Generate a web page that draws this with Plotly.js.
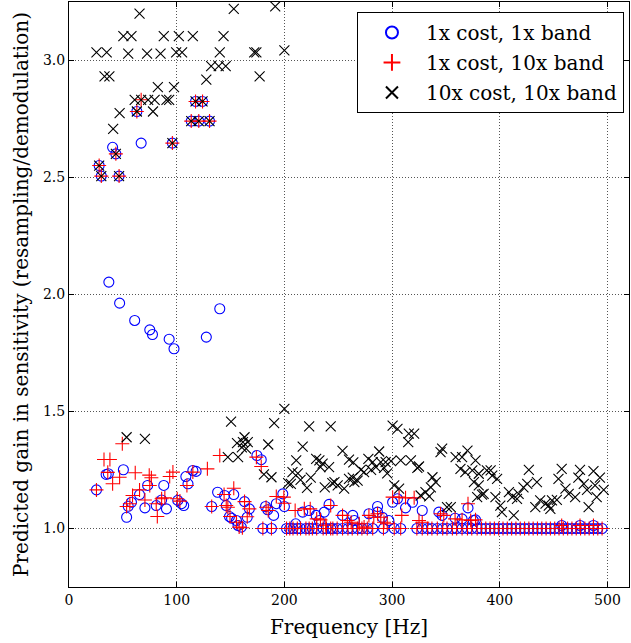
<!DOCTYPE html>
<html>
<head>
<meta charset="utf-8">
<script src="https://cdn.plot.ly/plotly-3.0.1.min.js"></script>
<style>html,body{margin:0;padding:0;background:#fff;}</style>
</head>
<body>
<div id="chart" style="width:631px;height:643px;"></div>
<script>
// ---- Data ----
const seriesNames = ["1x cost, 1x band", "1x cost, 10x band", "10x cost, 10x band"];

// points shared by all three series (upper cluster)
const sharedFreq = [28, 30, 43.5, 46.5, 63, 96, 113.5, 120.5, 130.5, 117.5, 124];
const sharedGain = [2.551, 2.506, 2.601, 2.506, 2.782, 2.647, 2.741, 2.741, 2.741, 2.825, 2.825];

// frequencies where both 1x-cost series sit at exactly 1.0
const floorFreq = [180, 188, 202, 205, 208, 212, 215, 220, 223, 226, 230, 236, 239, 243, 245, 249, 254, 259,
  263, 268, 272, 277, 282, 292, 302, 308, 323, 328, 333, 337, 342, 347, 351, 356, 360, 365, 370, 374, 379,
  383, 387, 391, 395, 399, 403, 407, 411, 415, 419, 423, 427, 431, 435, 439, 443, 447, 451, 455, 459, 463,
  467, 471, 475, 479, 483, 487, 491, 495];
const floorGain = [1.0, 1.0, 1.0, 1.0, 1.0, 1.0, 1.0, 1.0, 1.0, 1.0, 1.0, 1.0, 1.0, 1.0, 1.0, 1.0, 1.0, 1.0,
  1.0, 1.0, 1.0, 1.0, 1.0, 1.0, 1.0, 1.0, 1.0, 1.0, 1.0, 1.0, 1.0, 1.0, 1.0, 1.0, 1.0, 1.0, 1.0, 1.0, 1.0,
  1.0, 1.0, 1.0, 1.0, 1.0, 1.0, 1.0, 1.0, 1.0, 1.0, 1.0, 1.0, 1.0, 1.0, 1.0, 1.0, 1.0, 1.0, 1.0, 1.0, 1.0,
  1.0, 1.0, 1.0, 1.0, 1.0, 1.0, 1.0, 1.0];

// 1x cost, 1x band (own points)
const freqA = [40.5, 67, 37, 47, 61, 75, 77.5, 93, 97.5, 127.5, 140,
  25.5, 34.5, 36.5, 50.5, 65.5, 58, 55, 53.5, 70.5, 73, 88, 81, 86, 90.5, 101, 104.5, 106.5, 108.5, 110.5, 115,
  118, 138, 144.5, 153, 132.5, 146, 149, 151, 155.5, 157, 160, 163, 167.5, 165.5, 174.5, 178.5, 182.5, 184.5,
  190, 192.5, 198.5, 200, 210.5, 217, 223, 229.5, 232.5, 237, 241.5, 254, 263.5, 265, 278.5, 286.5, 286.5, 291,
  297, 300.5, 305, 312.5, 319, 328, 343.5, 346.5, 358.5, 365, 370.5, 377.5, 375.5, 457.5, 474.5, 487];
const gainA = [2.629, 2.647, 2.053, 1.963, 1.889, 1.849, 1.829, 1.809, 1.768, 1.818, 1.939,
  1.165, 1.231, 1.234, 1.251, 1.145, 1.112, 1.095, 1.048, 1.088, 1.184, 1.184, 1.098, 1.122, 1.084, 1.120, 1.106, 1.098, 1.222, 1.191, 1.248,
  1.244, 1.155, 1.141, 1.145, 1.094, 1.098, 1.051, 1.044, 1.034, 1.013, 1.006, 1.115, 1.084, 1.048, 1.312, 1.294, 1.094, 1.080,
  1.056, 1.106, 1.148, 1.094, 1.020, 1.070, 1.077, 1.056, 1.034, 1.070, 1.103, 1.056, 1.056, 1.034, 1.063, 1.094, 1.070, 1.048,
  1.034, 1.112, 1.127, 1.088, 1.112, 1.077, 1.070, 1.056, 1.044, 1.041, 1.088, 1.037, 1.034, 1.013, 1.013, 1.013];

// 1x cost, 10x band (own points)
const freqB = [67,
  25.5, 32.5, 38, 36, 40.5, 47, 49.5, 61.5, 65.5, 59, 56.5, 53.5, 70.5, 75, 76.5, 74.5, 93.5, 96.5, 81, 82, 86, 89,
  100.5, 103, 109.5, 115, 140, 128.5, 174, 178.5, 153, 144, 146, 147.5, 132.5, 149.5, 155.5, 158, 161, 163, 167.5,
  165.5, 183, 185, 192.5, 199.5, 200, 210, 218.5, 224, 230, 233.5, 238.5, 243, 254, 258.5, 262, 269.5, 274, 278.5,
  283, 286.5, 289.5, 292.5, 295.5, 300.5, 306.5, 312.5, 320.5, 309, 325, 328, 345, 348, 358.5, 365, 370.5, 373,
  377.5, 457.5, 474.5, 487];
const gainB = [2.832,
  1.165, 1.295, 1.295, 1.240, 1.191, 1.219, 1.362, 1.238, 1.165, 1.141, 1.106, 1.094, 1.122, 1.184, 1.217, 1.228, 1.222, 1.241, 1.106, 1.051, 1.127, 1.131,
  1.127, 1.117, 1.184, 1.241, 1.312, 1.255, 1.305, 1.265, 1.172, 1.145, 1.098, 1.091, 1.094, 1.051, 1.027, 1.006, 1.003, 1.115, 1.084,
  1.050, 1.091, 1.077, 1.137, 1.134, 1.108, 1.077, 1.084, 1.084, 1.041, 1.037, 1.014, 1.098, 1.056, 1.034, 1.027, 1.020, 1.006, 1.056,
  1.048, 1.063, 1.048, 1.027, 1.020, 1.134, 1.134, 1.131, 1.131, 1.056, 1.034, 1.027, 1.063, 1.056, 1.041, 1.037, 1.106, 1.034,
  1.037, 1.013, 1.013, 1.013];

// 10x cost, 10x band (own points)
const freqC = [25.5, 35, 33, 37.5, 41, 47, 50.5, 58, 55, 61, 65.5, 67, 73.5, 79.5, 90.5, 93, 72.5, 78, 85, 82.5, 88,
  97.5, 99.5, 105, 102, 115, 127.5, 132, 139, 145.5, 140, 143.5, 153, 172, 174, 177, 191.5, 200,
  53.5, 70.5, 150.5, 190.5, 200, 223, 243, 163, 156, 161.5, 166, 160.5, 164.5, 147.5, 157, 185, 181, 188, 217, 211,
  229.5, 232.5, 235.5, 233.5, 207.5, 212.5, 215, 224.5, 203.5, 206, 221, 237.5, 244.5, 241.5,
  300.5, 305, 315.5, 320.5, 315, 254, 288, 278, 282, 289.5, 294, 299, 308, 317.5, 325, 323.5, 260, 264, 271, 274,
  280.5, 285, 292.5, 295.5, 246.5, 249.5, 255.5, 260, 265, 263.5, 268, 302, 306.5, 337.5, 340.5, 336, 331, 326.5, 334.5,
  345, 346.5, 359, 365, 370, 377.5, 363.5, 368, 374.5, 380.5, 351, 354.5, 379,
  376, 380.5, 383.5, 385, 388, 391.5, 393, 397.5, 396, 400.5, 402, 413, 408.5, 411.5, 416, 417.5, 422, 425.5, 427,
  434.5, 433, 437.5, 442.5, 445.5, 448.5, 453, 447, 457.5, 454.5, 461, 464, 470, 474.5, 473, 478, 481, 482.5, 487,
  493, 488.5, 496.5, 490];
const gainC = [3.035, 3.035, 2.932, 2.932, 2.708, 2.775, 3.104, 3.104, 3.029, 2.832, 3.200, 2.832, 2.832, 2.832, 2.832, 2.832, 3.029, 2.782, 3.029, 2.886, 3.104,
  2.886, 3.035, 3.035, 3.104, 3.104, 2.918, 2.976, 2.976, 2.976, 3.035, 3.104, 3.221, 3.035, 3.035, 2.932, 3.231, 3.043,
  1.390, 1.383, 1.457, 1.450, 1.511, 1.436, 1.436, 1.390, 1.365, 1.369, 1.369, 1.347, 1.341, 1.305, 1.305, 1.359, 1.231, 1.219, 1.350, 1.291,
  1.298, 1.291, 1.277, 1.262, 1.241, 1.236, 1.208, 1.217, 1.194, 1.191, 1.174, 1.176, 1.194, 1.262,
  1.440, 1.426, 1.405, 1.405, 1.369, 1.332, 1.329, 1.298, 1.284, 1.284, 1.284, 1.288, 1.291, 1.291, 1.265, 1.259, 1.294, 1.283, 1.251, 1.241,
  1.251, 1.262, 1.259, 1.236, 1.198, 1.184, 1.170, 1.212, 1.198, 1.217, 1.205, 1.184, 1.170, 1.219, 1.198, 1.176, 1.155, 1.141, 1.137,
  1.326, 1.341, 1.305, 1.305, 1.333, 1.291, 1.255, 1.241, 1.248, 1.234, 1.091, 1.091, 1.134,
  1.198, 1.184, 1.145, 1.148, 1.248, 1.248, 1.226, 1.212, 1.134, 1.098, 1.070, 1.056, 1.155, 1.134, 1.127, 1.148, 1.176, 1.191, 1.251,
  1.198, 1.091, 1.120, 1.106, 1.098, 1.120, 1.122, 1.084, 1.255, 1.212, 1.170, 1.148, 1.134, 1.251, 1.217, 1.191, 1.165, 1.091, 1.245,
  1.217, 1.184, 1.165, 1.134];

const xTicks = [0, 100, 200, 300, 400, 500];
const yTicks = [1.0, 1.5, 2.0, 2.5, 3.0];

// ---- Build traces ----
const xA = sharedFreq.concat(freqA, floorFreq), yA = sharedGain.concat(gainA, floorGain);
const xB = sharedFreq.concat(freqB, floorFreq), yB = sharedGain.concat(gainB, floorGain);
const xC = sharedFreq.concat(freqC), yC = sharedGain.concat(gainC);

const FONT = "DejaVu Serif, Liberation Serif, serif";

const traces = [
  {x: xA, y: yA, name: seriesNames[0], type: "scatter", mode: "markers", legendgroup: "a",
   marker: {symbol: "circle-open", size: 10, color: "#0000ff", line: {width: 1.1, color: "#0000ff"}}},
  {x: xB, y: yB, name: seriesNames[1], type: "scatter", mode: "markers", legendgroup: "b",
   marker: {symbol: "cross-thin-open", size: 10, color: "#ff0000", line: {width: 1.1, color: "#ff0000"}}},
  {x: xC, y: yC, name: seriesNames[2], type: "scatter", mode: "markers", legendgroup: "c",
   marker: {symbol: "x-thin-open", size: 10, color: "#000000", line: {width: 1.1, color: "#000000"}}}
];

const axisCommon = {
  showline: true, linecolor: "#000", linewidth: 1, mirror: "ticks",
  ticks: "inside", ticklen: 5, tickwidth: 1, tickcolor: "#000",
  showgrid: true, gridcolor: "#555", griddash: "1px,2px", gridwidth: 1,
  zeroline: false, tickfont: {family: FONT, size: 14, color: "#000"}
};

const layout = {
  width: 631, height: 643,
  margin: {l: 69, r: 2, t: 2, b: 56, pad: 0},
  paper_bgcolor: "#fff", plot_bgcolor: "#fff",
  font: {family: FONT, color: "#000"},
  showlegend: true,
  legend: {x: 0.991, y: 0.983, xanchor: "right", yanchor: "top",
    bgcolor: "#fff", bordercolor: "#000", borderwidth: 1,
    font: {family: FONT, size: 20, color: "#000"},
    traceorder: "grouped", tracegroupgap: 1, itemsizing: "constant", itemwidth: 58},
  xaxis: Object.assign({}, axisCommon, {
    range: [0, 520], tickmode: "array", tickvals: xTicks, ticktext: xTicks.map(String),
    title: {text: "Frequency [Hz]", font: {family: FONT, size: 20, color: "#000"}, standoff: 13}
  }),
  yaxis: Object.assign({}, axisCommon, {
    range: [0.75, 3.25], tickmode: "array", tickvals: yTicks, ticktext: yTicks.map(v => v.toFixed(1)),
    title: {text: "Predicted gain in sensitivity (resampling/demodulation)", font: {family: FONT, size: 20, color: "#000"}, standoff: 8}
  })
};

Plotly.newPlot("chart", traces, layout, {displayModeBar: false, staticPlot: true});
</script>
</body>
</html>
